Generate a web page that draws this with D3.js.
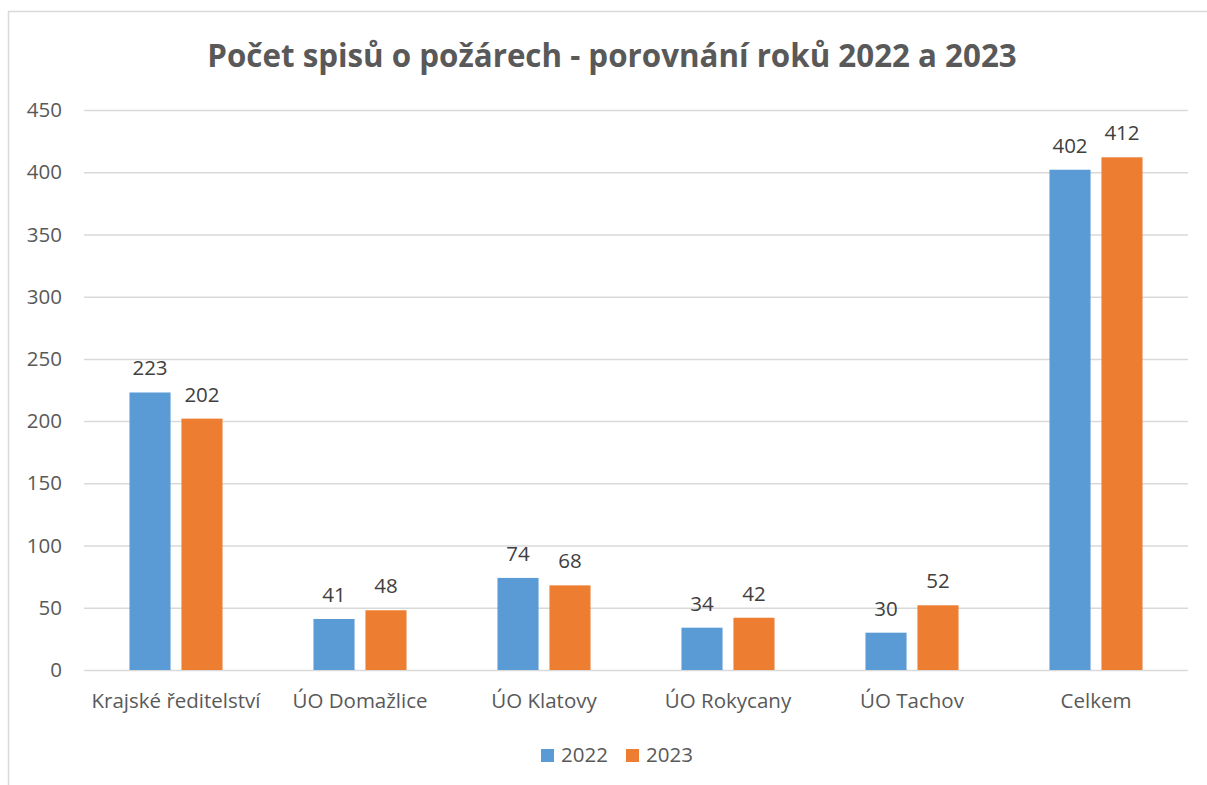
<!DOCTYPE html>
<html><head><meta charset="utf-8">
<script src="https://cdn.jsdelivr.net/npm/d3@7"></script>
<style>body{margin:0;background:#fff;} text{font-family:"Open Sans",Lato,sans-serif;}</style>
</head><body>
<svg id="c" width="1207" height="785"></svg>
<script>
const categories = ["Krajské ředitelství","ÚO Domažlice","ÚO Klatovy","ÚO Rokycany","ÚO Tachov","Celkem"];
const series = ["2022","2023"];
const values2022 = [223,41,74,34,30,402];
const values2023 = [202,48,68,42,52,412];
const yTicks = [0,50,100,150,200,250,300,350,400,450];
const title = "Počet spisů o požárech - porovnání roků 2022 a 2023";
const colors = ["#5b9bd5","#ed7d31"];

(function(){
const FF = "'Open Sans',Lato,sans-serif";
const FS = 20.5;
const svg = d3.select("#c");
svg.append("rect").attr("x",8.5).attr("y",11.5).attr("width",1210).attr("height",790)
  .attr("fill","#fff").attr("stroke","#d9d9d9").attr("stroke-width",1.5);

const pL=84, pR=1188, pT=110, pB=670;
const x = d3.scaleBand().domain(categories).range([pL,pR]);
const y = d3.scaleLinear().domain([0,450]).range([pB,pT]);

svg.append("text").attr("x",612).attr("y",67).attr("text-anchor","middle")
  .attr("font-size",31.3).attr("font-weight","bold").attr("fill","#595959").text(title);

svg.append("g").selectAll("line").data(yTicks).join("line")
  .attr("x1",pL).attr("x2",pR).attr("y1",d=>y(d)+0.5).attr("y2",d=>y(d)+0.5)
  .attr("stroke","#d9d9d9").attr("stroke-width",1.5);

const yAxis = d3.axisLeft(y).tickValues(yTicks).tickSize(0).tickPadding(0);
const ya = svg.append("g").attr("transform",`translate(62,0)`).call(yAxis);
ya.select(".domain").remove();
ya.selectAll("text").attr("font-size",FS).attr("fill","#595959").attr("font-family",FF);

const xAxis = d3.axisBottom(x).tickSize(0).tickPadding(0);
const xa = svg.append("g").attr("transform",`translate(0,${pB+23})`).call(xAxis);
xa.select(".domain").remove();
xa.selectAll("text").attr("font-size",FS).attr("fill","#595959").attr("font-family",FF);

const inner = d3.scaleBand().domain(series).range([0,x.bandwidth()]).paddingInner(0.21).paddingOuter(0.875);
const data = [values2022, values2023];
series.forEach((s,si)=>{
  const gg = svg.append("g");
  gg.selectAll("rect").data(categories).join("rect")
    .attr("x",c=>x(c)+inner(s)).attr("width",inner.bandwidth())
    .attr("y",(c,i)=>y(data[si][i])).attr("height",(c,i)=>y(0)-y(data[si][i]))
    .attr("fill",colors[si]);
  gg.selectAll("text").data(categories).join("text")
    .attr("x",c=>x(c)+inner(s)+inner.bandwidth()/2)
    .attr("y",(c,i)=>y(data[si][i])-17)
    .attr("text-anchor","middle").attr("font-size",FS).attr("fill","#404040")
    .text((c,i)=>data[si][i]);
});

const leg = svg.append("g");
const lx=[541,626];
series.forEach((s,i)=>{
  leg.append("rect").attr("x",lx[i]).attr("y",749).attr("width",13).attr("height",13).attr("fill",colors[i]);
  leg.append("text").attr("x",lx[i]+20).attr("y",762).attr("font-size",FS).attr("fill","#595959").text(s);
});
})();
</script>
</body></html>
